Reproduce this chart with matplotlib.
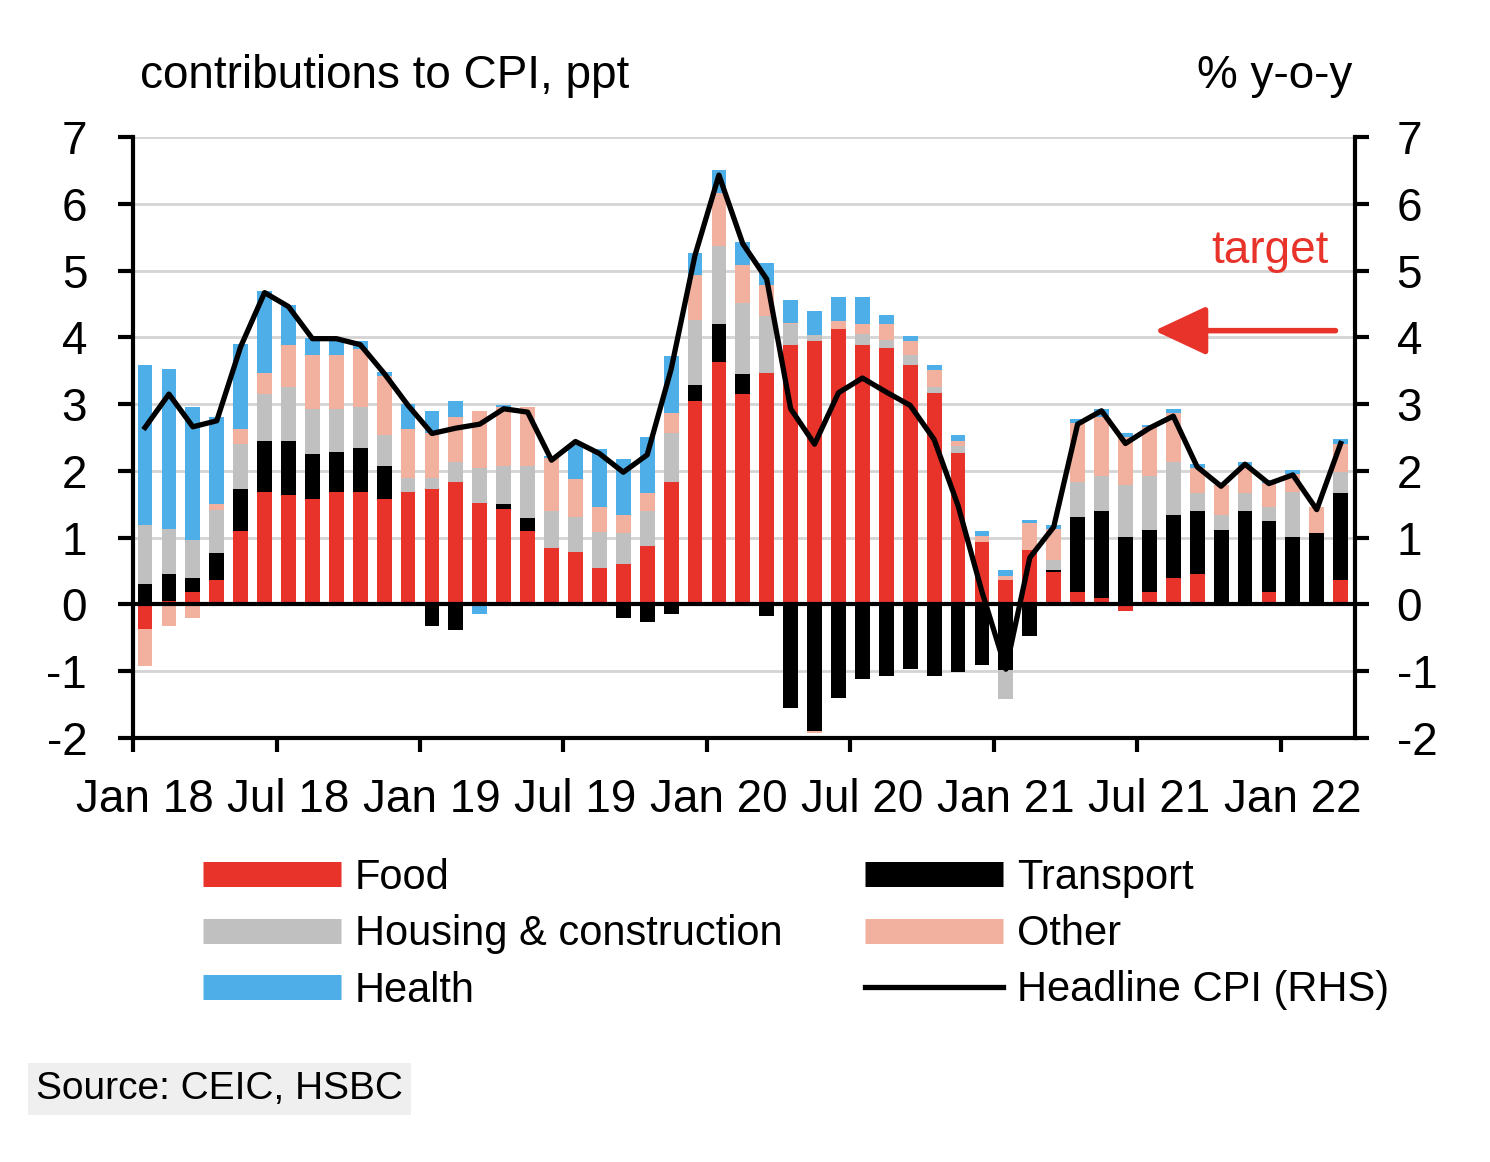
import numpy as np
import matplotlib
matplotlib.use("Agg")
import matplotlib.pyplot as plt
from matplotlib import font_manager
from matplotlib.lines import Line2D

# monthly data, Jan 18 .. Mar 22 (contributions in ppt, headline in % y-o-y)
food = [-0.37, 0.05, 0.19, 0.36, 1.10, 1.68, 1.64, 1.58, 1.68, 1.68, 1.58, 1.68,
        1.73, 1.83, 1.52, 1.43, 1.10, 0.85, 0.79, 0.55, 0.61, 0.88, 1.83, 3.05,
        3.63, 3.15, 3.46, 3.89, 3.94, 4.12, 3.89, 3.84, 3.59, 3.17, 2.27, 0.94,
        0.37, 0.82, 0.48, 0.19, 0.10, -0.10, 0.18, 0.40, 0.46, 0.03, 0.00, 0.19,
        0.00, 0.00, 0.36]
transport = [0.30, 0.40, 0.21, 0.41, 0.63, 0.77, 0.81, 0.67, 0.61, 0.67, 0.50, 0.00,
             -0.33, -0.39, 0.00, 0.07, 0.19, 0.00, 0.00, 0.00, -0.21, -0.27, -0.15, 0.24,
             0.57, 0.30, -0.17, -1.55, -1.90, -1.40, -1.12, -1.07, -0.97, -1.07, -1.01, -0.90,
             -0.98, -0.48, 0.03, 1.12, 1.30, 1.01, 0.94, 0.94, 0.94, 1.09, 1.40, 1.06,
             1.01, 1.07, 1.31]
housing = [0.89, 0.68, 0.57, 0.65, 0.68, 0.70, 0.81, 0.68, 0.64, 0.60, 0.45, 0.21,
           0.16, 0.31, 0.53, 0.58, 0.79, 0.55, 0.52, 0.53, 0.46, 0.52, 0.73, 0.97,
           1.17, 1.07, 0.86, 0.31, 0.09, 0.00, 0.16, 0.12, 0.14, 0.09, 0.10, 0.00,
           -0.43, 0.00, 0.16, 0.52, 0.53, 0.78, 0.81, 0.80, 0.27, 0.22, 0.27, 0.21,
           0.67, 0.00, 0.32]
other = [-0.55, -0.33, -0.21, 0.08, 0.21, 0.31, 0.63, 0.80, 0.80, 0.87, 0.89, 0.73,
         0.68, 0.67, 0.84, 0.88, 0.87, 0.80, 0.57, 0.38, 0.27, 0.27, 0.31, 0.68,
         0.79, 0.57, 0.47, 0.02, -0.03, 0.12, 0.15, 0.24, 0.21, 0.25, 0.07, 0.08,
         0.06, 0.40, 0.46, 0.88, 0.87, 0.71, 0.72, 0.73, 0.37, 0.45, 0.40, 0.36,
         0.28, 0.39, 0.42]
health = [2.39, 2.40, 1.99, 1.30, 1.28, 1.24, 0.60, 0.26, 0.23, 0.12, 0.06, 0.38,
          0.33, 0.24, -0.15, 0.02, 0.00, 0.02, 0.51, 0.87, 0.84, 0.84, 0.85, 0.33,
          0.34, 0.34, 0.33, 0.34, 0.36, 0.36, 0.40, 0.13, 0.08, 0.07, 0.09, 0.08,
          0.08, 0.04, 0.06, 0.06, 0.13, 0.06, 0.03, 0.05, 0.06, 0.00, 0.07, 0.04,
          0.06, 0.00, 0.06]
headline = [2.65, 3.15, 2.66, 2.75, 3.86, 4.67, 4.46, 3.98, 3.98, 3.89, 3.46, 2.98,
            2.56, 2.64, 2.70, 2.93, 2.88, 2.16, 2.44, 2.26, 1.98, 2.24, 3.52, 5.23,
            6.43, 5.40, 4.87, 2.93, 2.40, 3.17, 3.39, 3.18, 2.98, 2.47, 1.48, 0.19,
            -0.97, 0.70, 1.16, 2.70, 2.90, 2.41, 2.64, 2.82, 2.06, 1.77, 2.10, 1.81,
            1.94, 1.42, 2.41]
tick_labels = ["Jan 18", "Jul 18", "Jan 19", "Jul 19", "Jan 20",
               "Jul 20", "Jan 21", "Jul 21", "Jan 22"]

series = [("Food", food, "#e8332a"),
          ("Transport", transport, "#000000"),
          ("Housing & construction", housing, "#c0c0c0"),
          ("Other", other, "#f2b09f"),
          ("Health", health, "#4eaee8")]

names = {f.name for f in font_manager.fontManager.ttflist}
if "Liberation Sans Narrow" in names:
    fam, fs = "Liberation Sans Narrow", 38
else:
    fam, fs = "Liberation Sans", 33
plt.rcParams["font.family"] = [fam, "DejaVu Sans"]
plt.rcParams["axes.unicode_minus"] = False

fig = plt.figure(figsize=(14.9, 11.62), dpi=100)
ax = fig.add_axes([0.0893, 0.3649, 0.8201, 0.5172])

x = np.arange(len(food))
pos = np.zeros(len(x))
neg = np.zeros(len(x))
for name, vals, col in series:
    v = np.array(vals)
    bottom = np.where(v >= 0, pos, neg)
    ax.bar(x, v, width=0.62, bottom=bottom, color=col, zorder=2, linewidth=0)
    pos = pos + np.where(v >= 0, v, 0)
    neg = neg + np.where(v < 0, v, 0)

ax.axhline(0, color="black", lw=3, zorder=3)
ax.set_xlim(-0.5, 50.6)
ax.set_ylim(-2, 7)
ax.set_yticks(range(-2, 8))
ax.yaxis.grid(True, color="#d4d4d4", lw=2)
ax.set_axisbelow(True)

ax.set_xticks(np.arange(0, 49, 6))
ax.set_xticklabels(tick_labels)
ax.set_xticks(np.arange(0, 49, 6) - 0.5, minor=True)
ax.tick_params(axis="x", which="major", length=0, pad=29, labelsize=fs)
ax.tick_params(axis="x", which="minor", length=10, width=3, direction="out")
ax.tick_params(axis="y", length=11, width=3, direction="out", pad=22, labelsize=fs)

for s in ["top", "right"]:
    ax.spines[s].set_visible(False)
for s in ["left", "bottom"]:
    ax.spines[s].set_linewidth(3)

ax2 = ax.twinx()
ax2.plot(x, headline, color="black", lw=3.8, zorder=5)
ax2.set_ylim(-2, 7)
ax2.set_yticks(range(-2, 8))
ax2.tick_params(axis="y", length=10, width=3, direction="out", pad=20, labelsize=fs)
for s in ["top", "left", "bottom"]:
    ax2.spines[s].set_visible(False)
ax2.spines["right"].set_linewidth(3)

# target marker
ax2.annotate("", xy=(42.1, 4.1), xytext=(49.9, 4.1),
             arrowprops=dict(arrowstyle="-|>,head_length=1.6,head_width=0.75",
                             color="#e8332a", lw=4, mutation_scale=20))
ax2.text(49.5, 5.11, "target", color="#e8332a", fontsize=fs, ha="right", va="baseline")

fig.text(140 / 1490, 1 - 88 / 1162, "contributions to CPI, ppt", fontsize=fs,
         va="baseline", ha="left")
fig.text(1352 / 1490, 1 - 88 / 1162, "% y-o-y", fontsize=fs, va="baseline", ha="right")

handles = {name: Line2D([], [], color=col, lw=18, solid_capstyle="butt")
           for name, vals, col in series}
handles["Headline CPI (RHS)"] = Line2D([], [], color="black", lw=3.8)
col1 = ["Food", "Housing & construction", "Health"]
col2 = ["Transport", "Other", "Headline CPI (RHS)"]
for names_, x0 in [(col1, 203 / 1490), (col2, 865 / 1490)]:
    leg = fig.legend([handles[n] for n in names_], names_, loc="upper left",
                     bbox_to_anchor=(x0, 1 - 858 / 1162), frameon=False,
                     borderpad=0, borderaxespad=0, fontsize=fs - 3,
                     handlelength=3.3, handletextpad=0.35, labelspacing=0.39)

fig.text(36 / 1490, 1 - 1099 / 1162, "Source: CEIC, HSBC", fontsize=fs - 5,
         ha="left", va="baseline",
         bbox=dict(facecolor="#efefef", edgecolor="none", pad=6))

fig.savefig("out.png", dpi=100)
